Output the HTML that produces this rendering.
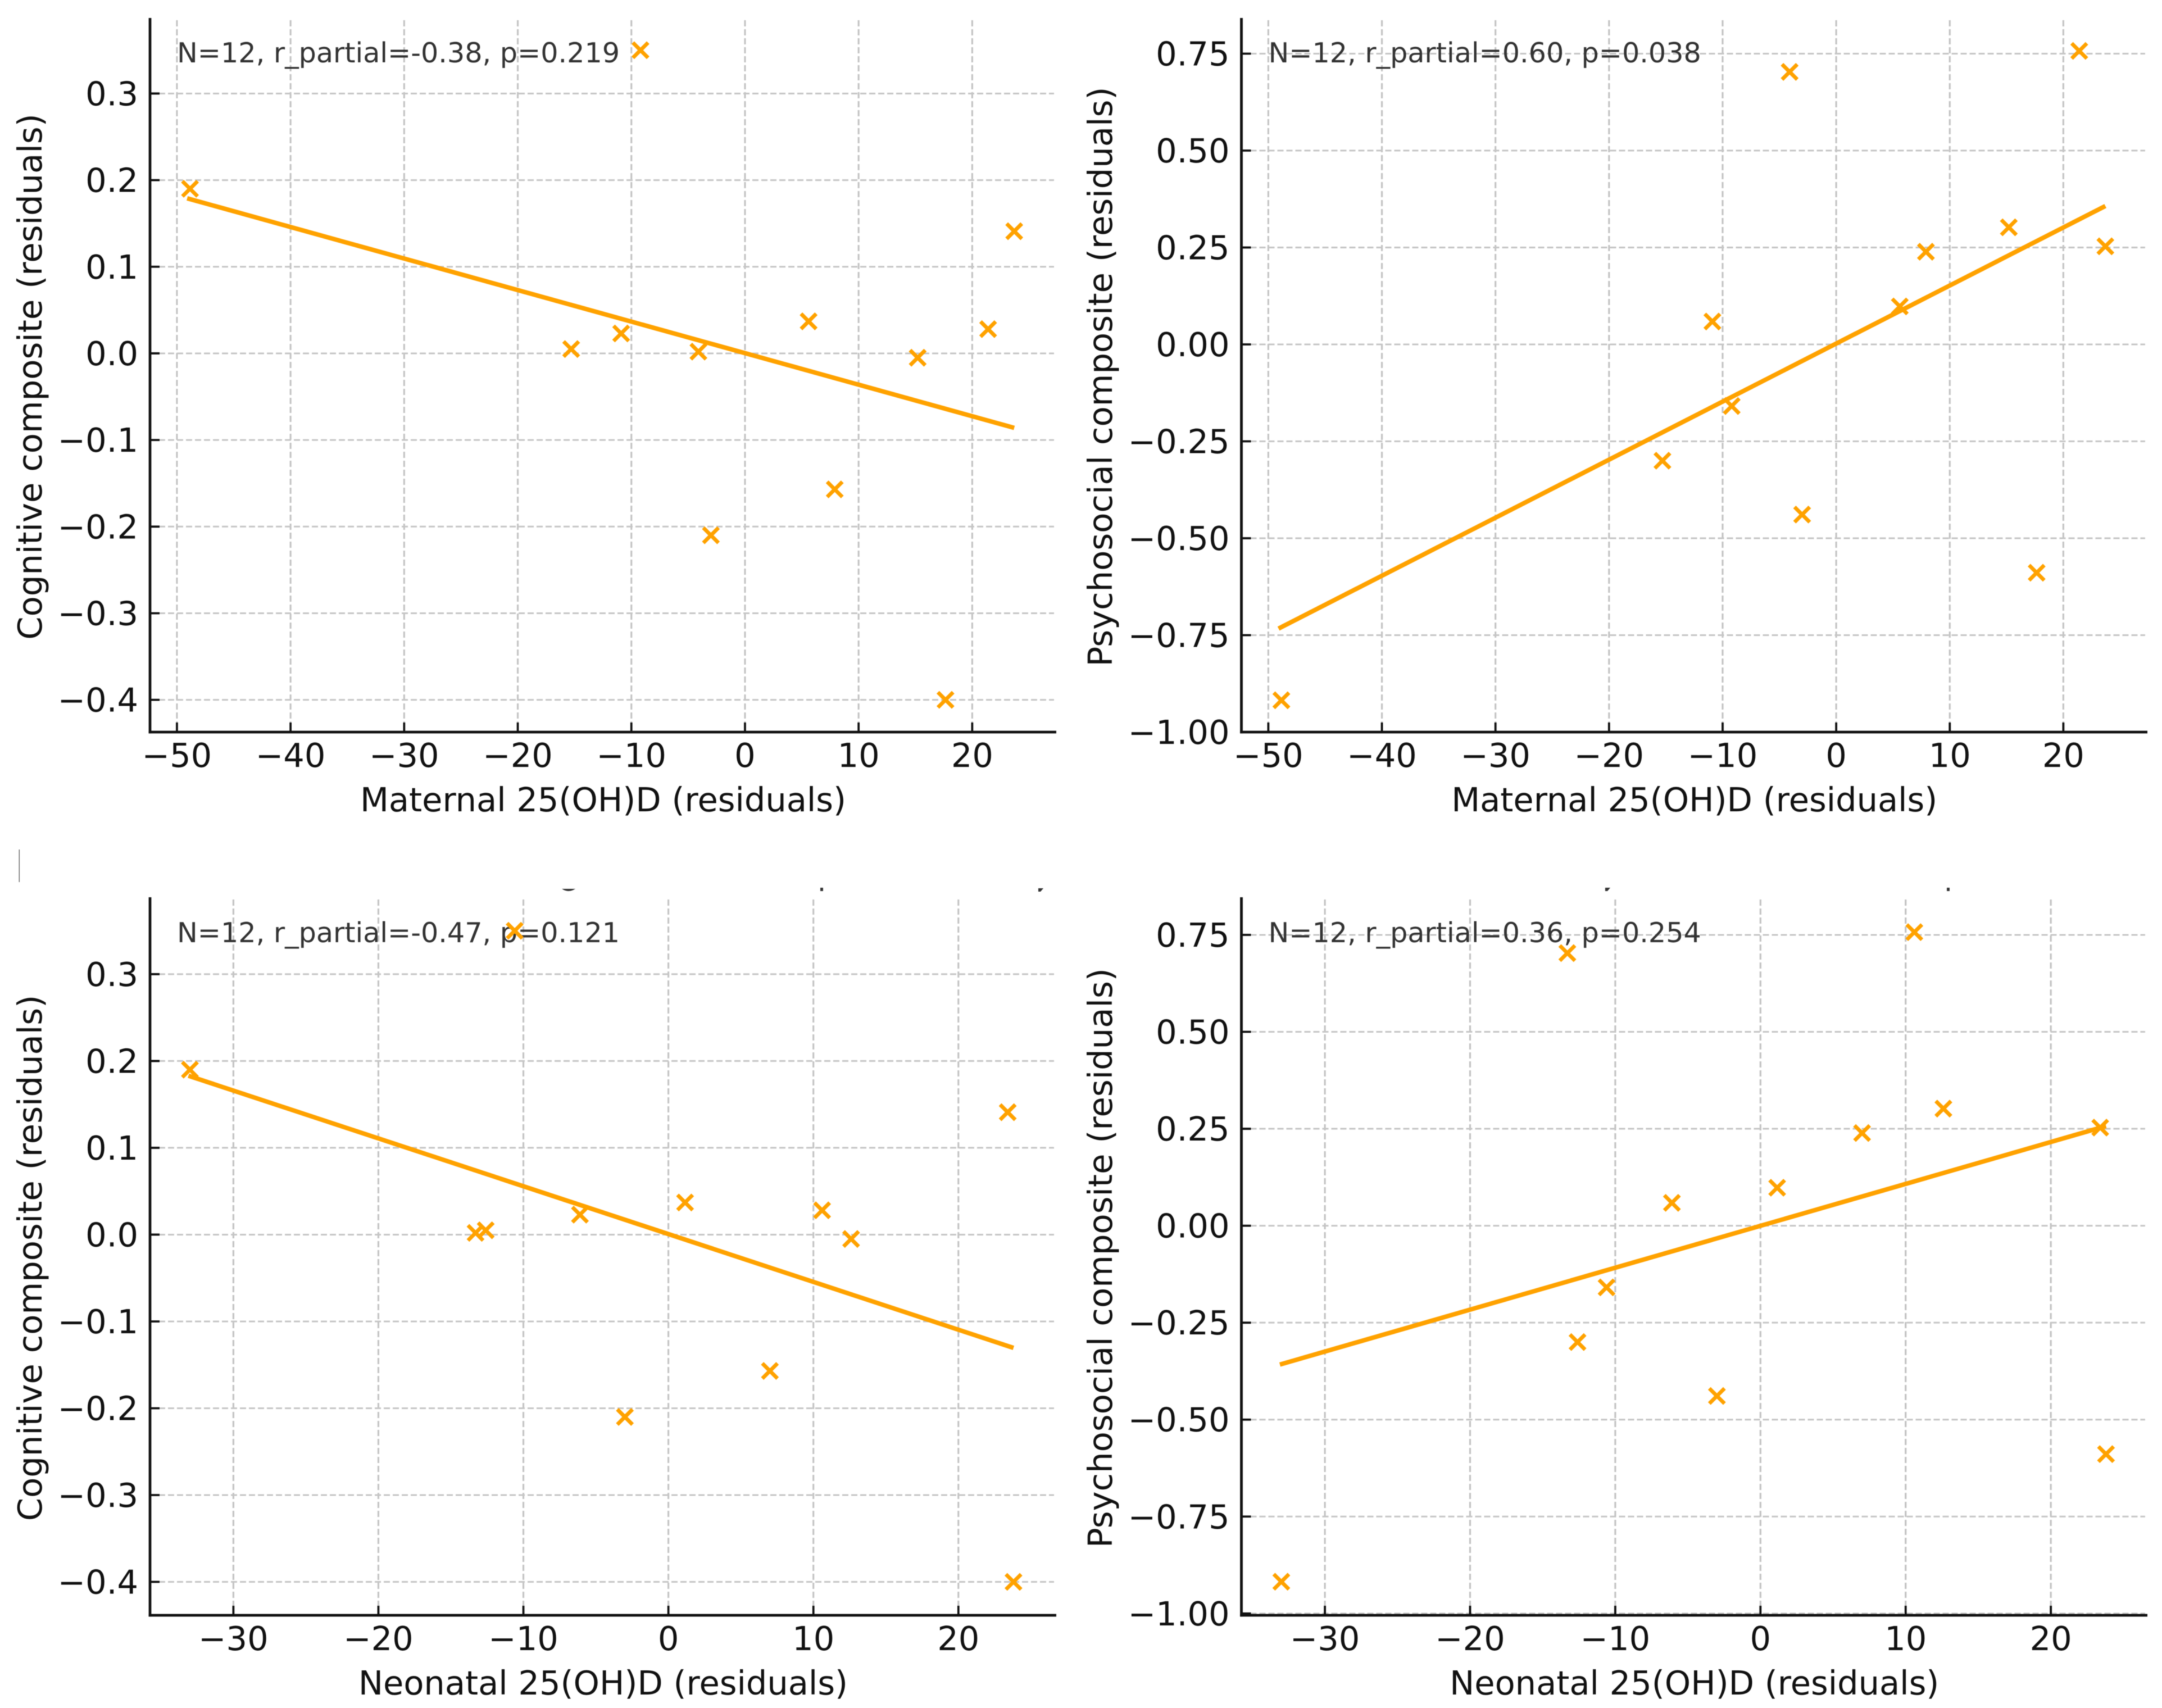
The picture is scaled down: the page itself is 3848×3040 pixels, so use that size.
<!DOCTYPE html>
<html lang="en">
<head>
<meta charset="utf-8">
<title>Partial regression plots</title>
<style>
html,body{margin:0;padding:0;background:#fff;}
svg{display:block;filter:blur(0.7px);}
text{font-family:"DejaVu Sans","Liberation Sans",sans-serif;}
</style>
</head>
<body>
<svg id="chart" xmlns="http://www.w3.org/2000/svg" width="3848" height="3040" viewBox="0 0 3848 3040">
  <rect x="0" y="0" width="3848" height="3040" fill="#ffffff"/>
  <g fill="#333333">
    <rect x="33.5" y="1512" width="1.6" height="58" fill="#777777"/>
    <path d="M1000 1582 L1024 1582 Q1012 1590 1000 1582 Z"/>
    <rect x="1460" y="1580" width="5" height="6"/>
    <path d="M1848 1581 L1857 1581 L1852 1587 L1848 1587 Z"/>
    <path d="M2857 1580 L2866 1580 L2861 1586 L2857 1586 Z"/>
    <rect x="3465" y="1580" width="5" height="6"/>
  </g>
</svg>
<script>
// ---- data ----
const maternalX     = [-48.85, -9.2, -15.3, -10.9, -4.1, -3.0, 5.6, 7.9, 15.2, 17.65, 21.4, 23.7];
const neonatalX     = [-33.0, -10.6, -12.6, -6.1, -13.3, -3.0, 1.15, 7.0, 12.6, 23.8, 10.6, 23.4];
const cognitiveY    = [0.19, 0.35, 0.005, 0.023, 0.002, -0.21, 0.037, -0.157, -0.005, -0.40, 0.028, 0.141];
const psychosocialY = [-0.918, -0.159, -0.30, 0.059, 0.703, -0.439, 0.098, 0.239, 0.302, -0.589, 0.757, 0.253];

const fitMaternalX = [-49.1, 23.7];
const fitNeonatalX = [-33.1, 23.8];
const fitCogMaternalY  = [0.179, -0.086];
const fitPsyMaternalY  = [-0.733, 0.357];
const fitCogNeonatalY  = [0.183, -0.1305];
const fitPsyNeonatalY  = [-0.358, 0.257];

const xTicksMaternal = [-50, -40, -30, -20, -10, 0, 10, 20];
const xTicksNeonatal = [-30, -20, -10, 0, 10, 20];
const yTicksCognitive = [-0.4, -0.3, -0.2, -0.1, 0.0, 0.1, 0.2, 0.3];
const yTicksPsychosocial = [-1.0, -0.75, -0.5, -0.25, 0.0, 0.25, 0.5, 0.75];

const annotationTexts = [
  "N=12, r_partial=-0.38, p=0.219",
  "N=12, r_partial=0.60, p=0.038",
  "N=12, r_partial=-0.47, p=0.121",
  "N=12, r_partial=0.36, p=0.254"
];
const xTitles = ["Maternal 25(OH)D (residuals)", "Neonatal 25(OH)D (residuals)"];
const yTitles = ["Cognitive composite (residuals)", "Psychosocial composite (residuals)"];

// ---- layout ----
const panels = [
  {id:"maternal-cognitive", box:[267,32,1880,1303], xd:[-52.37,27.4], yd:[-0.4372,0.3872], xs:maternalX, ys:cognitiveY, fx:fitMaternalX, fy:fitCogMaternalY, xt:xTicksMaternal, yt:yTicksCognitive, dec:1, note:annotationTexts[0], xTitle:xTitles[0], yTitle:yTitles[0], yTitleX:74, noteY:111},
  {id:"maternal-psychosocial", box:[2209.5,32,3822,1303], xd:[-52.37,27.4], yd:[-1.0,0.842], xs:maternalX, ys:psychosocialY, fx:fitMaternalX, fy:fitPsyMaternalY, xt:xTicksMaternal, yt:yTicksPsychosocial, dec:2, note:annotationTexts[1], xTitle:xTitles[0], yTitle:yTitles[1], yTitleX:1979, noteY:111},
  {id:"neonatal-cognitive", box:[267,1597,1880,2875], xd:[-35.75,26.75], yd:[-0.4385,0.3886], xs:neonatalX, ys:cognitiveY, fx:fitNeonatalX, fy:fitCogNeonatalY, xt:xTicksNeonatal, yt:yTicksCognitive, dec:1, note:annotationTexts[2], xTitle:xTitles[1], yTitle:yTitles[0], yTitleX:74, noteY:1677},
  {id:"neonatal-psychosocial", box:[2209.5,1597,3822,2875], xd:[-35.75,26.65], yd:[-1.0046,0.847], xs:neonatalX, ys:psychosocialY, fx:fitNeonatalX, fy:fitPsyNeonatalY, xt:xTicksNeonatal, yt:yTicksPsychosocial, dec:2, note:annotationTexts[3], xTitle:xTitles[1], yTitle:yTitles[1], yTitleX:1979, noteY:1677}
];

const NS = "http://www.w3.org/2000/svg";
const root = document.getElementById("chart");
const ORANGE = "#ffa200";
const INK = "#111111";

function make(parent, tag, attrs, txt) {
  const n = document.createElementNS(NS, tag);
  for (const k in attrs) n.setAttribute(k, attrs[k]);
  if (txt !== undefined) n.textContent = txt;
  parent.appendChild(n);
  return n;
}
function fmt(v, dec) {
  const s = Math.abs(v).toFixed(dec);
  return (v < 0 ? "\u2212" : "") + s;
}

panels.forEach(function (p) {
  const [L, T, R, B] = p.box;
  const xScale = function (v) { return L + (v - p.xd[0]) / (p.xd[1] - p.xd[0]) * (R - L); };
  const yScale = function (v) { return B - (v - p.yd[0]) / (p.yd[1] - p.yd[0]) * (B - T); };

  const g = make(root, "g", {});
  
  

  // grid
  p.xt.forEach(function (t) {
    const x = xScale(t);
    const el = make(g, "line", {x1:x, x2:x, y1:T + 4, y2:B, stroke:"#c4c4c4", "stroke-width":3.2, "stroke-dasharray":"11 5"});
    
    
  });
  p.yt.forEach(function (t) {
    const y = yScale(t);
    const el = make(g, "line", {x1:L, x2:R - 4, y1:y, y2:y, stroke:"#c6c6c6", "stroke-width":3, "stroke-dasharray":"11 5"});
    
    
  });

  // annotation
  const note = make(g, "text", {x:L + 48, y:p.noteY, "font-size":49.2, fill:"#333333"}, p.note);
  
  

  // fit line
  const fit = make(g, "line", {x1:xScale(p.fx[0]), y1:yScale(p.fy[0]), x2:xScale(p.fx[1]), y2:yScale(p.fy[1]), stroke:ORANGE, "stroke-width":8});
  
  

  // points
  p.xs.forEach(function (xv, i) {
    const cx = xScale(xv), cy = yScale(p.ys[i]), a = 13.5;
    const m = make(g, "path", {d:"M" + (cx - a) + " " + (cy - a) + "L" + (cx + a) + " " + (cy + a) + "M" + (cx - a) + " " + (cy + a) + "L" + (cx + a) + " " + (cy - a), stroke:ORANGE, "stroke-width":6.8, fill:"none"});
    
    
  });

  // ticks + labels
  p.xt.forEach(function (t) {
    const x = xScale(t);
    const tk = make(g, "line", {x1:x, x2:x, y1:B, y2:B - 17, stroke:INK, "stroke-width":3.8});
    
    
    const lb = make(g, "text", {x:x, y:B + 62, "font-size":59, fill:INK, "text-anchor":"middle"}, fmt(t, 0));
    
    
  });
  p.yt.forEach(function (t) {
    const y = yScale(t);
    const tk = make(g, "line", {x1:L, x2:L + 17, y1:y, y2:y, stroke:INK, "stroke-width":3.8});
    
    
    const lb = make(g, "text", {x:L - 21, y:y + 21, "font-size":59, fill:INK, "text-anchor":"end"}, fmt(t, p.dec));
    
    
  });

  // spines
  const sl = make(g, "line", {x1:L, x2:L, y1:T, y2:B + 2.3, stroke:INK, "stroke-width":4.8});
  
  
  const sb = make(g, "line", {x1:L - 2.4, x2:R, y1:B, y2:B, stroke:INK, "stroke-width":4.8});
  
  

  // axis titles
  const xt = make(g, "text", {x:(L + R) / 2, y:B + 141, "font-size":59, fill:INK, "text-anchor":"middle"}, p.xTitle);
  
  
  const yc = (T + B) / 2 + 3;
  const yt = make(g, "text", {x:p.yTitleX, y:yc, "font-size":59.2, fill:INK, "text-anchor":"middle", transform:"rotate(-90 " + p.yTitleX + " " + yc + ")"}, p.yTitle);
  
  
});
</script>
</body>
</html>
